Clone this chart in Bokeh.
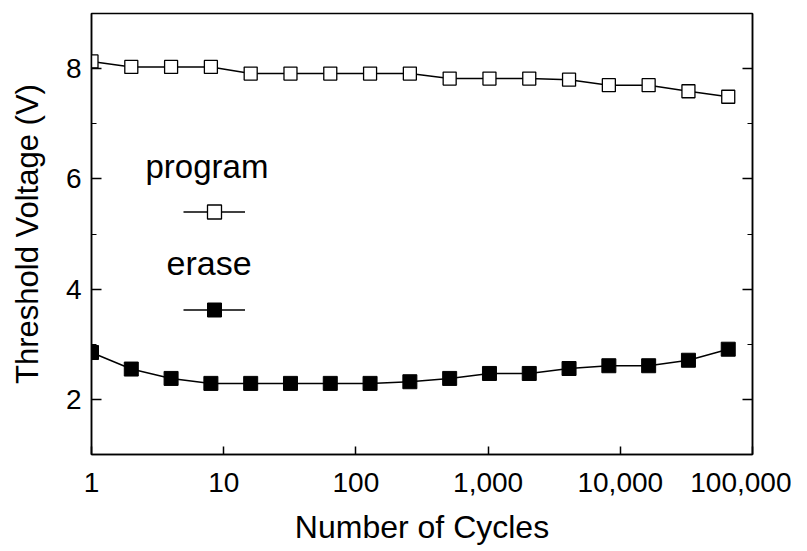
from bokeh.plotting import figure
from bokeh.models import (FixedTicker, NumeralTickFormatter, LinearAxis, Legend,
                          LegendItem, Label, Range1d)
from bokeh.embed import file_html
from bokeh.resources import INLINE

# ---- data ----
cycles = [1, 2, 4, 8, 16, 32, 64, 128, 256, 512, 1024, 2048, 4096, 8192,
          16384, 32768, 65536]
program_v = [8.13, 8.03, 8.03, 8.03, 7.91, 7.91, 7.91, 7.91, 7.91, 7.82,
             7.82, 7.82, 7.80, 7.70, 7.70, 7.59, 7.49]
erase_v = [2.85, 2.55, 2.38, 2.29, 2.29, 2.29, 2.29, 2.29, 2.32, 2.38,
           2.47, 2.47, 2.56, 2.61, 2.61, 2.71, 2.91]
x_ticks = [1, 10, 100, 1000, 10000, 100000]
y_ticks = [2, 4, 6, 8]
y_minor = [3, 5, 7]
x_label = "Number of Cycles"
y_label = "Threshold Voltage (V)"
series_names = ["program", "erase"]

FONT = "Liberation Sans"

p = figure(width=791, height=535, x_axis_type="log",
           x_range=Range1d(1, 100000), y_range=Range1d(1, 9),
           output_backend="svg", toolbar_location=None,
           min_border_left=91, min_border_right=39,
           min_border_top=13, min_border_bottom=80)
p.frame_width = 661
p.frame_height = 441

p.grid.visible = False
p.outline_line_color = "black"
p.outline_line_width = 1.5
p.background_fill_color = "white"
p.border_fill_color = "white"

# series
r1l = p.line(cycles, program_v, line_color="black", line_width=1.5)
r1m = p.scatter(cycles, program_v, marker="square", size=13,
                fill_color="white", line_color="black", line_width=1.3)
r2l = p.line(cycles, erase_v, line_color="black", line_width=1.5)
r2m = p.scatter(cycles, erase_v, marker="square", size=14,
                fill_color="black", line_color="black")

# axes
xa = p.xaxis[0]
xa.ticker = FixedTicker(ticks=x_ticks)
xa.formatter = NumeralTickFormatter(format="0,0")
xa.major_tick_in = 8
xa.major_tick_out = 0
xa.minor_tick_line_color = None
xa.axis_line_width = 1.5
xa.major_tick_line_width = 1.5
xa.major_label_text_font = FONT
xa.major_label_text_font_size = "28px"
xa.major_label_text_color = "black"
xa.major_label_standoff = 18
xa.axis_label = x_label
xa.axis_label_text_font = FONT
xa.axis_label_text_font_size = "32px"
xa.axis_label_text_font_style = "normal"
xa.axis_label_text_color = "black"
xa.axis_label_standoff = 14

ya = p.yaxis[0]
ya.ticker = FixedTicker(ticks=y_ticks, minor_ticks=y_minor)
ya.major_tick_in = 10
ya.major_tick_out = 0
ya.minor_tick_in = 5
ya.minor_tick_out = 0
ya.axis_line_width = 1.5
ya.major_tick_line_width = 1.5
ya.major_label_text_font = FONT
ya.major_label_text_font_size = "28px"
ya.major_label_text_color = "black"
ya.major_label_standoff = 10
ya.axis_label = y_label
ya.axis_label_text_font = FONT
ya.axis_label_text_font_size = "31px"
ya.axis_label_text_font_style = "normal"
ya.axis_label_text_color = "black"
ya.axis_label_standoff = 18

ra = LinearAxis(ticker=FixedTicker(ticks=y_ticks, minor_ticks=y_minor))
ra.major_tick_in = 10
ra.major_tick_out = 0
ra.minor_tick_in = 5
ra.minor_tick_out = 0
ra.axis_line_width = 1.5
ra.major_tick_line_width = 1.5
ra.major_label_text_font_size = "0px"
ra.major_label_text_color = None
p.add_layout(ra, "right")

# legend (label drawn above each sample)
legend = Legend(items=[LegendItem(label=" ", renderers=[r1l, r1m]),
                       LegendItem(label=" ", renderers=[r2l, r2m])],
                location=(92, 127), glyph_width=62, glyph_height=35,
                label_height=35, spacing=63, padding=0, margin=0,
                border_line_color=None, background_fill_alpha=0,
                label_text_font_size="1px")
p.add_layout(legend, "center")

for name, sx, sy, fs in [(series_names[0], 54, 288, "33px"),
                         (series_names[1], 75, 192, "34px")]:
    p.add_layout(Label(x=sx, y=sy, x_units="screen", y_units="screen",
                       text=name, text_font=FONT, text_font_size=fs,
                       text_color="black", text_baseline="alphabetic"))

open("out.html", "w").write(file_html(p, INLINE))
